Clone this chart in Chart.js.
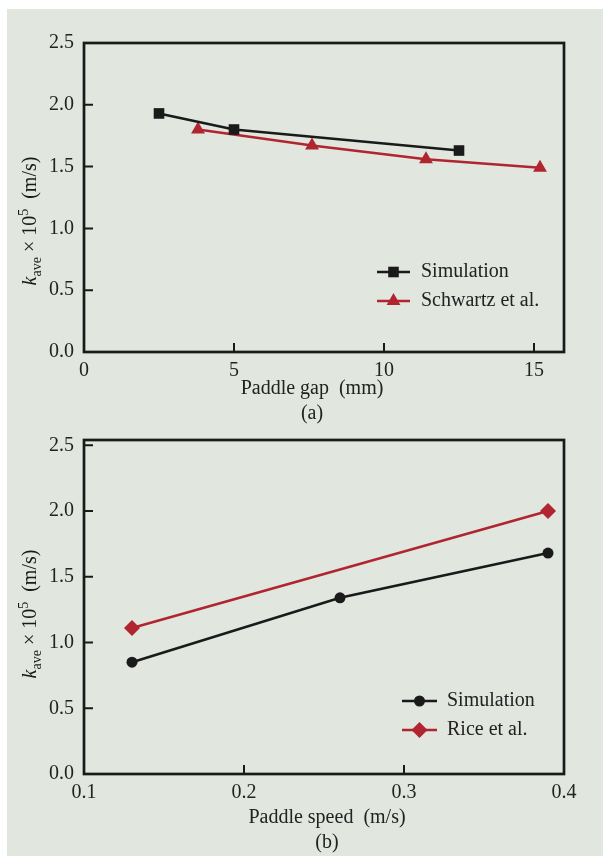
<!DOCTYPE html>
<html>
<head>
<meta charset="utf-8">
<script src="https://cdn.jsdelivr.net/npm/chart.js@4.4.0/dist/chart.umd.min.js"></script>
<style>
  body { margin: 0; background: #fff; width: 606px; height: 856px; position: relative; overflow: hidden; }
  #panel { position: absolute; left: 7px; top: 9px; width: 596px; height: 847px; background: #e1e6de; }
  .box { position: absolute; left: 0; width: 606px; }
</style>
</head>
<body>
<div id="panel"></div>
<div class="box" style="top:0;height:428px"><canvas id="chartA" width="606" height="428"></canvas></div>
<div class="box" style="top:400px;height:456px"><canvas id="chartB" width="606" height="456"></canvas></div>
<script>
// (a) paddle gap
const gapSim = [2.5, 5, 12.5];
const kSimGap = [1.93, 1.80, 1.63];
const gapSchwartz = [3.8, 7.6, 11.4, 15.2];
const kSchwartz = [1.80, 1.67, 1.56, 1.49];
const gapTicks = [0, 5, 10, 15];

// (b) paddle speed
const speedSim = [0.13, 0.26, 0.39];
const kSimSpeed = [0.85, 1.34, 1.68];
const speedRice = [0.13, 0.39];
const kRice = [1.11, 2.00];
const speedTicks = [0.1, 0.2, 0.3, 0.4];

const kTicks = [0, 0.5, 1.0, 1.5, 2.0, 2.5];

const SERIF = '"Liberation Serif", "DejaVu Serif", serif';
const BLACK = "#1a1a1a";
const RED = "#b0252f";

function toPoints(xs, ys) {
  return xs.map((x, i) => ({ x: x, y: ys[i] }));
}

function drawYTitle(ctx, cx, cy) {
  const parts = [
    { t: "k", f: "italic 20px " + SERIF, dy: 0 },
    { t: "ave", f: "14px " + SERIF, dy: 5 },
    { t: " \u00d7 10", f: "20px " + SERIF, dy: 0 },
    { t: "5", f: "14px " + SERIF, dy: -8 },
    { t: "  (m/s)", f: "20px " + SERIF, dy: 0 },
  ];
  let total = 0;
  parts.forEach(p => { ctx.font = p.f; p.w = ctx.measureText(p.t).width; total += p.w; });
  ctx.save();
  ctx.translate(cx, cy);
  ctx.rotate(-Math.PI / 2);
  ctx.fillStyle = BLACK;
  ctx.textBaseline = "alphabetic";
  ctx.textAlign = "left";
  let x = -total / 2;
  parts.forEach(p => {
    ctx.font = p.f;
    ctx.fillText(p.t, x, 7 + p.dy);
    x += p.w;
  });
  ctx.restore();
}

// box, inward ticks, legend and titles
const framePlugin = {
  id: "frame",
  afterDraw(chart, args, opts) {
    const ctx = chart.ctx;
    const a = chart.chartArea;
    const xs = chart.scales.x, ys = chart.scales.y;
    ctx.save();
    ctx.strokeStyle = BLACK;
    ctx.lineWidth = 2;
    ctx.beginPath();
    ys.ticks.forEach(t => {
      const py = ys.getPixelForValue(t.value);
      ctx.moveTo(a.left, py);
      ctx.lineTo(a.left + 9, py);
    });
    xs.ticks.forEach(t => {
      const px = xs.getPixelForValue(t.value);
      ctx.moveTo(px, a.bottom);
      ctx.lineTo(px, a.bottom - 9);
    });
    ctx.stroke();
    ctx.lineWidth = 2.7;
    ctx.strokeRect(a.left, a.top, a.right - a.left, a.bottom - a.top);

    // legend
    opts.legend.forEach((item, i) => {
      const y = opts.legendY + i * opts.legendGap;
      ctx.strokeStyle = item.color;
      ctx.lineWidth = 2.5;
      ctx.beginPath();
      ctx.moveTo(opts.legendX, y);
      ctx.lineTo(opts.legendX + opts.legendLen, y);
      ctx.stroke();
      ctx.fillStyle = item.color;
      Chart.helpers.drawPoint(ctx, { pointStyle: item.style, radius: item.radius, rotation: 0, borderWidth: 0 },
        opts.legendX + opts.legendLen / 2, y);
      ctx.fillStyle = "#222";
      ctx.font = "20px " + SERIF;
      ctx.textAlign = "left";
      ctx.textBaseline = "middle";
      ctx.fillText(item.label, opts.legendText, y);
    });

    // axis titles
    ctx.fillStyle = "#222";
    ctx.font = "20px " + SERIF;
    ctx.textAlign = "center";
    ctx.textBaseline = "middle";
    opts.xTitle.forEach((line, i) => {
      ctx.fillText(line, opts.xTitleX, opts.xTitleY + i * 25);
    });
    drawYTitle(ctx, 29, opts.yTitleY);
    ctx.restore();
  }
};

function makeChart(id, cfg) {
  const ctx = document.getElementById(id).getContext("2d");
  return new Chart(ctx, {
    type: "scatter",
    data: { datasets: cfg.datasets },
    options: {
      responsive: false,
      animation: false,
      layout: { padding: { top: cfg.top, right: 42, left: 0, bottom: 0 } },
      plugins: {
        legend: { display: false },
        tooltip: { enabled: false },
        frame: cfg.frame,
      },
      scales: {
        x: {
          type: "linear",
          min: cfg.xMin,
          max: cfg.xMax,
          afterBuildTicks: s => { s.ticks = cfg.xTicks.map(v => ({ value: v })); },
          afterFit: s => { s.height = cfg.xHeight; },
          grid: { display: false, drawTicks: false },
          border: { display: false },
          ticks: {
            padding: 7,
            color: "#222",
            font: { family: SERIF, size: 20 },
            callback: cfg.xFormat,
          },
        },
        y: {
          type: "linear",
          min: 0,
          max: cfg.yMax,
          afterBuildTicks: s => { s.ticks = kTicks.map(v => ({ value: v })); },
          afterFit: s => { s.width = 84; },
          grid: { display: false, drawTicks: false },
          border: { display: false },
          ticks: {
            padding: 10,
            color: "#222",
            font: { family: SERIF, size: 20 },
            callback: v => v.toFixed(1),
          },
        },
      },
    },
    plugins: [framePlugin],
  });
}

makeChart("chartA", {
  top: 43,
  xHeight: 76,
  xMin: 0,
  xMax: 16,
  yMax: 2.5,
  xTicks: gapTicks,
  xFormat: v => String(v),
  datasets: [
    {
      label: "Simulation",
      data: toPoints(gapSim, kSimGap),
      showLine: true,
      borderColor: BLACK,
      backgroundColor: BLACK,
      borderWidth: 2.5,
      pointStyle: "rect",
      pointRadius: 7.5,
      pointBorderWidth: 0,
    },
    {
      label: "Schwartz et al.",
      data: toPoints(gapSchwartz, kSchwartz),
      showLine: true,
      borderColor: RED,
      backgroundColor: RED,
      borderWidth: 2.5,
      pointStyle: "triangle",
      pointRadius: 8,
      pointBorderWidth: 0,
    },
  ],
  frame: {
    legend: [
      { label: "Simulation", color: BLACK, style: "rect", radius: 7.5 },
      { label: "Schwartz et al.", color: RED, style: "triangle", radius: 8 },
    ],
    legendX: 377, legendLen: 33, legendText: 421, legendY: 272, legendGap: 29,
    xTitle: ["Paddle gap  (mm)", "(a)"], xTitleX: 312, xTitleY: 389,
    yTitleY: 221,
  },
});

makeChart("chartB", {
  top: 40,
  xHeight: 82,
  xMin: 0.1,
  xMax: 0.4,
  yMax: 2.54,
  xTicks: speedTicks,
  xFormat: v => v.toFixed(1),
  datasets: [
    {
      label: "Simulation",
      data: toPoints(speedSim, kSimSpeed),
      showLine: true,
      borderColor: BLACK,
      backgroundColor: BLACK,
      borderWidth: 2.5,
      pointStyle: "circle",
      pointRadius: 5.5,
      pointBorderWidth: 0,
    },
    {
      label: "Rice et al.",
      data: toPoints(speedRice, kRice),
      showLine: true,
      borderColor: RED,
      backgroundColor: RED,
      borderWidth: 2.5,
      pointStyle: "rectRot",
      pointRadius: 8,
      pointBorderWidth: 0,
    },
  ],
  frame: {
    legend: [
      { label: "Simulation", color: BLACK, style: "circle", radius: 5.5 },
      { label: "Rice et al.", color: RED, style: "rectRot", radius: 8 },
    ],
    legendX: 402, legendLen: 35, legendText: 447, legendY: 301, legendGap: 29,
    xTitle: ["Paddle speed  (m/s)", "(b)"], xTitleX: 327, xTitleY: 418,
    yTitleY: 214,
  },
});
</script>
</body>
</html>
